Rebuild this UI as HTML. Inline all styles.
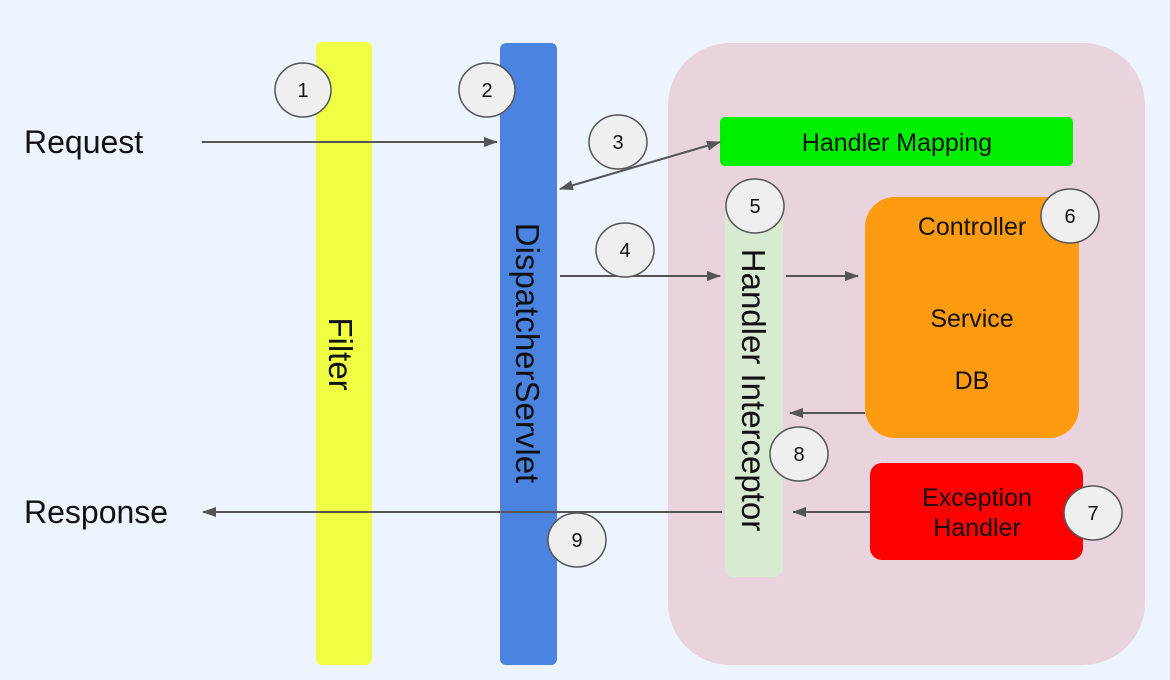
<!DOCTYPE html>
<html><head><meta charset="utf-8"><style>
html,body{margin:0;padding:0;background:#eef4fd;}
svg{display:block;font-family:"Liberation Sans",Arial,sans-serif;}
</style></head><body>
<svg width="1170" height="680" viewBox="0 0 1170 680" xmlns="http://www.w3.org/2000/svg">
<defs>
<marker id="b" viewBox="0 0 14 10" markerWidth="14" markerHeight="10" refX="13" refY="5" orient="auto-start-reverse" markerUnits="userSpaceOnUse">
<path d="M0,0 L14,5 L0,10 Z" fill="#555"/>
</marker>
</defs>
<rect width="1170" height="680" fill="#eef4fd"/>
<rect x="668" y="43" width="477" height="622" rx="62" fill="#e9d3dd"/>
<rect x="316" y="42" width="56" height="623" rx="6" fill="#eeff44"/>
<rect x="500" y="43" width="57" height="622" rx="6" fill="#4a84e0"/>
<rect x="720" y="117" width="353" height="49" rx="5" fill="#00ee00"/>
<rect x="725" y="200" width="58" height="377" rx="8" fill="#d9ead3"/>
<rect x="865" y="197" width="214" height="241" rx="30" fill="#ff9b10"/>
<rect x="870" y="463" width="213" height="97" rx="12" fill="#ff0000"/>

<g fill="#111" font-size="32">
<text x="24" y="153">Request</text>
<text x="24" y="523">Response</text>
</g>
<text x="897" y="151" font-size="25" text-anchor="middle" fill="#111">Handler Mapping</text>
<g font-size="25" text-anchor="middle" fill="#111">
<text x="972" y="235">Controller</text>
<text x="972" y="327">Service</text>
<text x="972" y="389">DB</text>
<text x="977" y="506">Exception</text>
<text x="977" y="536">Handler</text>
</g>
<g font-size="33" text-anchor="middle" fill="#111">
<text transform="translate(329,354) rotate(90)">Filter</text>
<text transform="translate(516,353) rotate(90)">DispatcherServlet</text>
<text transform="translate(742,390) rotate(90)">Handler Interceptor</text>
</g>

<g stroke="#555" stroke-width="2" fill="none">
<line x1="202" y1="142" x2="497" y2="142" marker-end="url(#b)"/>
<line x1="560" y1="189" x2="720" y2="142" marker-start="url(#b)" marker-end="url(#b)"/>
<line x1="560" y1="276" x2="720" y2="276" marker-end="url(#b)"/>
<line x1="786" y1="276" x2="858" y2="276" marker-end="url(#b)"/>
<line x1="865" y1="413" x2="790" y2="413" marker-end="url(#b)"/>
<line x1="870" y1="512" x2="793" y2="512" marker-end="url(#b)"/>
<line x1="722" y1="512" x2="203" y2="512" marker-end="url(#b)"/>
</g>

<g fill="#efefef" stroke="#555" stroke-width="1.5">
<ellipse cx="303" cy="90" rx="28" ry="27"/>
<ellipse cx="487" cy="90" rx="28" ry="27"/>
<ellipse cx="618" cy="142" rx="29" ry="27"/>
<ellipse cx="625" cy="250" rx="29" ry="27"/>
<ellipse cx="755" cy="206" rx="29" ry="27"/>
<ellipse cx="1070" cy="216" rx="29" ry="27"/>
<ellipse cx="1093" cy="513" rx="29" ry="27"/>
<ellipse cx="799" cy="454" rx="29" ry="27"/>
<ellipse cx="577" cy="540" rx="29" ry="27"/>
</g>
<g font-size="20" text-anchor="middle" fill="#111">
<text x="303" y="97">1</text>
<text x="487" y="97">2</text>
<text x="618" y="149">3</text>
<text x="625" y="257">4</text>
<text x="755" y="213">5</text>
<text x="1070" y="223">6</text>
<text x="1093" y="520">7</text>
<text x="799" y="461">8</text>
<text x="577" y="547">9</text>
</g>
</svg>
</body></html>
